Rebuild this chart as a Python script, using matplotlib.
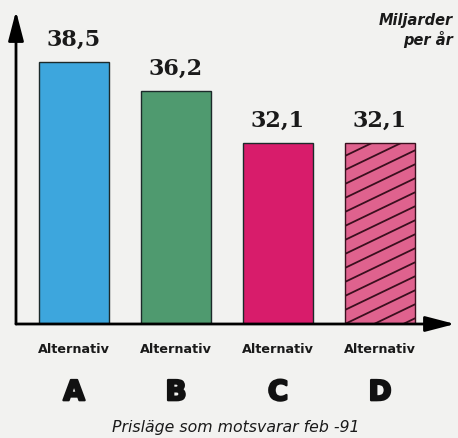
import matplotlib
matplotlib.use("Agg")
import matplotlib.pyplot as plt
import matplotlib.patheffects as pe
import numpy as np

# data
letters = ["A", "B", "C", "D"]
values = [38.5, 36.2, 32.1, 32.1]
value_labels = ["38,5", "36,2", "32,1", "32,1"]
colors = ["#3da6dd", "#4f9a6f", "#d81c6b", "#df628e"]
hatched = [False, False, False, True]
y_low = 17.9   # the scanned chart is not drawn from zero
y_high = 42.5

fig = plt.figure(figsize=(4.58, 4.39), dpi=100)
bg = "#f2f2f0"
fig.patch.set_facecolor(bg)

W, H = 458, 439
# axes box in pixels: x 16..455, y 12..325 (from top)
ax = fig.add_axes([16 / W, (H - 325) / H, (455 - 16) / W, (325 - 12) / H])
ax.set_facecolor(bg)
xlim = (-0.569, 3.735)
ax.set_xlim(*xlim)
ax.set_ylim(y_low, y_high)
for s in ax.spines.values():
    s.set_visible(False)
ax.set_xticks([])
ax.set_yticks([])

width = 0.69
x = np.arange(len(letters))
bars = ax.bar(x, [v - y_low for v in values], bottom=y_low, width=width,
              color=colors, edgecolor="#1c2a2a", linewidth=1.0, zorder=2)

# slanted hatch (shallower than matplotlib's 45 degree one)
px_x = (455 - 16) / (xlim[1] - xlim[0])
px_y = (325 - 12) / (y_high - y_low)
for b, h in zip(bars, hatched):
    if not h:
        continue
    b.set_edgecolor("#3a0f1e")
    x0 = b.get_x()
    x1 = x0 + b.get_width()
    top = b.get_y() + b.get_height()
    bw_px = (x1 - x0) * px_x
    for k in np.arange(-10, 30):
        y_start = y_low + (k * 14) / px_y
        y_end = y_start + 0.48 * bw_px / px_y
        ln, = ax.plot([x0, x1], [y_start, y_end], color="#3a0f1e", lw=1.3,
                      zorder=3, solid_capstyle="butt")
        ln.set_clip_path(b)

for xi, v, lab in zip(x, values, value_labels):
    ax.annotate(lab, (xi, v), xytext=(0, 9), textcoords="offset points",
                ha="center", va="bottom", fontsize=16, fontweight="bold",
                family="DejaVu Serif", color="#1a1a1a")

# axis arrows
arrow = dict(arrowstyle="-|>,head_length=1.0,head_width=0.26", lw=2,
             color="black", shrinkA=0, shrinkB=0, mutation_scale=18)
ax.annotate("", xy=(0, 1), xytext=(0, 0), xycoords="axes fraction",
            arrowprops=arrow, zorder=4)
ax.annotate("", xy=(1, 0), xytext=(0, 0), xycoords="axes fraction",
            arrowprops=arrow, zorder=4)

tr = ax.get_xaxis_transform()
thick = [pe.withStroke(linewidth=1.6, foreground="#111111")]
for xi, letter in zip(x, letters):
    ax.text(xi, -0.077, "Alternativ", transform=tr, ha="center", va="center",
            fontsize=9.2, fontweight="bold", color="#1a1a1a")
    ax.text(xi, -0.218, letter, transform=tr, ha="center", va="center",
            fontsize=20, fontweight="heavy", color="#111111",
            path_effects=thick)

fig.text(453 / W, 1 - 21 / H, "Miljarder", ha="right", va="center",
         fontsize=10.5, style="italic", fontweight="bold", color="#1a1a1a")
fig.text(453 / W, 1 - 40 / H, "per år", ha="right", va="center",
         fontsize=10.5, style="italic", fontweight="bold", color="#1a1a1a")
fig.text(236 / W, 1 - 428 / H, "Prisläge som motsvarar feb -91", ha="center",
         va="center", fontsize=11.3, style="italic", color="#1a1a1a")

fig.savefig("out.png", dpi=100, facecolor=bg)
